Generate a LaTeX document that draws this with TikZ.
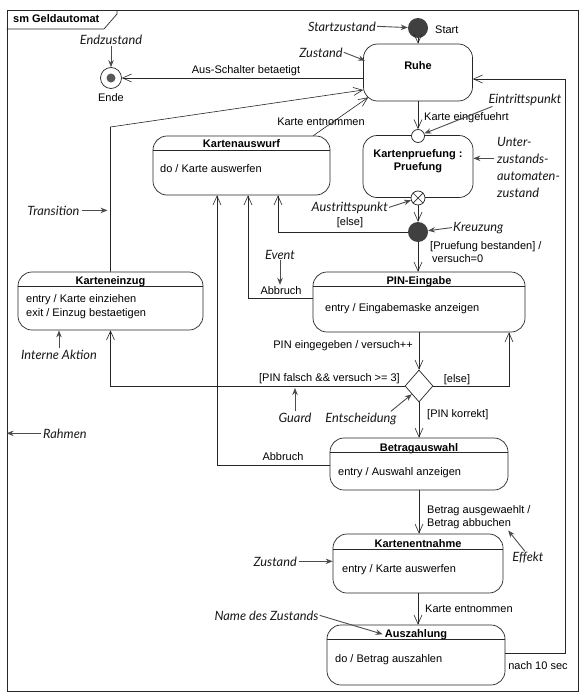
\documentclass[tikz,border=0pt]{standalone}
\usepackage{fontspec}
\setmainfont{Liberation Sans}
\newfontfamily\annfont{Lato}
\usetikzlibrary{arrows.meta,shapes.geometric,calc}
\begin{document}
\begin{tikzpicture}[x=1pt,y=-1pt,
 font=\fontsize{11}{13}\selectfont,
 st/.style={draw=black!85, line width=0.7pt, rounded corners=14pt, inner sep=0pt},
 tr/.style={draw=black!85, line width=0.6pt, -{Straight Barb[length=9pt,width=8pt]}},
 ann/.style={font=\annfont\itshape\fontsize{12.8}{15}\selectfont, inner sep=0pt, anchor=base, text=black!90},
 aa/.style={draw=black!70, line width=0.9pt, -{Stealth[length=7pt,width=5.5pt]}},
 tt/.style={font=\fontsize{11}{13}\selectfont\bfseries, inner sep=0pt, anchor=base},
 bw/.style={inner sep=0pt, anchor=base west},
 bc/.style={inner sep=0pt, anchor=base},
 be/.style={inner sep=0pt, anchor=base east},
 sep/.style={draw=black!85, line width=0.6pt}
]
\useasboundingbox (0,0) rectangle (585,696);
\fill[white] (0,0) rectangle (585,696);
% frame
\node[draw=black!85, line width=0.8pt, minimum width=571pt, minimum height=681pt, inner sep=0pt] (frame) at (292.5,350.5) {};
\draw[black!85, line width=0.7pt] (frame.north west |- 0,29) -- (104,29) -- (117,14) -- (117,10);
\node[tt, anchor=base west] (title) at (13,23) {sm Geldautomat};
% states
\node[st, minimum width=109pt, minimum height=57pt] (ruhe) at (418,72.5) {};
\node[tt] (ruhet) at (418,69) {Ruhe};
\node[st, minimum width=110pt, minimum height=62pt] (kp) at (418,166.5) {};
\node[tt] (kpt1) at (418,157) {Kartenpruefung :};
\node[tt] (kpt2) at (418,170) {Pruefung};
\node[st, minimum width=177pt, minimum height=59pt] (kaw) at (241.5,165.5) {};
\node[tt] (kawt) at (241.5,147) {Kartenauswurf};
\node[bw] (kawb) at (160,172) {do / Karte auswerfen};
\draw[sep] ([yshift=-15pt]kaw.north west) -- ([yshift=-15pt]kaw.north east);
\node[st, minimum width=185pt, minimum height=58pt] (kez) at (110.5,301) {};
\node[tt] (kezt) at (110.5,284) {Karteneinzug};
\node[bw] (kezb1) at (26,302) {entry / Karte einziehen};
\node[bw] (kezb2) at (26,316) {exit / Einzug bestaetigen};
\draw[sep] ([yshift=-15pt]kez.north west) -- ([yshift=-15pt]kez.north east);
\node[st, minimum width=212pt, minimum height=60pt] (pin) at (419,302) {};
\node[tt] (pint) at (419,284) {PIN-Eingabe};
\node[bw] (pinb) at (325,311) {entry / Eingabemaske anzeigen};
\draw[sep] ([yshift=-15pt]pin.north west) -- ([yshift=-15pt]pin.north east);
\node[st, minimum width=178pt, minimum height=52pt] (bet) at (419,464) {};
\node[tt] (bett) at (419,451) {Betragauswahl};
\node[bw] (betb) at (338,475) {entry / Auswahl anzeigen};
\draw[sep] ([yshift=-15pt]bet.north west) -- ([yshift=-15pt]bet.north east);
\node[st, minimum width=170pt, minimum height=59pt] (ken) at (418,563.5) {};
\node[tt] (kent) at (418,547) {Kartenentnahme};
\node[bw] (kenb) at (342,572) {entry / Karte auswerfen};
\draw[sep] ([yshift=-16pt]ken.north west) -- ([yshift=-16pt]ken.north east);
\node[st, minimum width=178pt, minimum height=60pt] (asz) at (416,655) {};
\node[tt] (aszt) at (416,637) {Auszahlung};
\node[bw] (aszb) at (335,662) {do / Betrag auszahlen};
\draw[sep] ([yshift=-15pt]asz.north west) -- ([yshift=-15pt]asz.north east);
% pseudo states
\node[circle, fill=black!75, minimum size=20pt, inner sep=0pt] (start) at (418,28) {};
\node[bw] (startl) at (435,33) {Start};
\node[circle, draw=black!85, line width=0.7pt, fill=white, minimum size=21pt, inner sep=0pt] (ende) at (111,78) {};
\node[circle, fill=black!65, minimum size=9pt, inner sep=0pt] (endedot) at (111,78) {};
\node[bc] (endel) at (111,101) {Ende};
\node[circle, draw=black!85, line width=0.7pt, fill=white, minimum size=13pt, inner sep=0pt] (entry) at (418,136) {};
\node[circle, draw=black!85, line width=0.7pt, fill=white, minimum size=14pt, inner sep=0pt] (exit) at (418,198) {};
\draw[black!85, line width=0.7pt] (exit.north west) -- (exit.south east) (exit.north east) -- (exit.south west);
\node[circle, fill=black!75, minimum size=20pt, inner sep=0pt] (junc) at (418,232) {};
\node[diamond, draw=black!85, line width=0.7pt, minimum width=28pt, minimum height=32pt, inner sep=0pt] (dec) at (419,386) {};
% transitions
\draw[tr] (start) -- (ruhe.north);
\draw[tr] (ruhe.west |- ende) -- (ende);
\node[bc] (l_aus) at (246,73) {Aus-Schalter betaetigt};
\coordinate (k1) at (110.5,127);
\draw[tr] (kez.north) -- (k1) -- ([yshift=-17.5pt]ruhe.west);
\draw[tr] ([xshift=-17pt]kaw.north east) -- ([xshift=5pt,yshift=4pt]ruhe.south west);
\node[bc] (l_ke1) at (321,125) {Karte entnommen};
\draw[tr] (ruhe.south) -- (entry);
\node[bw] (l_kein) at (424,120) {Karte eingefuehrt};
\draw[tr] (exit) -- (junc);
\draw[tr] (junc.west) -| ([xshift=36.5pt]kaw.south);
\node[bc] (l_else1) at (350,225) {[else]};
\draw[tr] (junc) -- (junc |- pin.north);
\node[bw] (l_pb1) at (430,249) {[Pruefung bestanden] /};
\node[bw] (l_pb2) at (432,262) {versuch=0};
\draw[tr] ([yshift=4pt]pin.west) -| ([xshift=6.5pt]kaw.south);
\node[bc] (l_abb1) at (281,294) {Abbruch};
\draw[tr] (pin.south) -- (dec);
\node[be] (l_pin) at (413,348) {PIN eingegeben / versuch++};
\draw[tr] (dec.west) -| (kez.south);
\node[be] (l_falsch) at (400,381) {[PIN falsch \&\& versuch >= 3]};
\draw[tr] (dec.east) -| ([xshift=90pt]pin.south);
\node[bc] (l_else2) at (457,382) {[else]};
\draw[tr] (dec.south) -- (bet.north);
\node[bw] (l_korr) at (427,417) {[PIN korrekt]};
\draw[tr] ([yshift=-1pt]bet.west) -| ([xshift=-24.5pt]kaw.south);
\node[bc] (l_abb2) at (283,460) {Abbruch};
\draw[tr] (bet.south) -- (bet.south |- ken.north);
\node[bw] (l_baus) at (427,513) {Betrag ausgewaehlt /};
\node[bw] (l_bab) at (427,526) {Betrag abbuchen};
\draw[tr] (ken.south) -- (ken.south |- asz.north);
\node[bw] (l_ke2) at (425,612) {Karte entnommen};
\coordinate (c10) at (565,653);
\draw[tr] (asz.east |- c10) -- (c10) |- ([yshift=-6.5pt]ruhe.east);
\node[bc] (l_10) at (538,669) {nach 10 sec};
% annotations
\node[ann] (a_endz) at (111,44) {Endzustand};
\draw[aa] ([yshift=-2pt]a_endz.south) -- (ende);
\node[ann] (a_start) at (342,31) {Startzustand};
\draw[aa] ([xshift=1pt]a_start.east) -- (start);
\node[ann] (a_zust) at (321,57) {Zustand};
\draw[aa] ([xshift=1pt]a_zust.east) -- ([xshift=2pt,yshift=-17pt]ruhe.north west);
\node[ann] (a_eintr) at (525,103) {Eintrittspunkt};
\draw[aa] ([xshift=4pt,yshift=-1pt]a_eintr.south west) -- (entry);
\node[ann, anchor=base west] (a_u1) at (497,146) {Unter-};
\node[ann, anchor=base west] (a_u2) at (497,163) {zustands-};
\node[ann, anchor=base west] (a_u3) at (497,180) {automaten-};
\node[ann, anchor=base west] (a_u4) at (497,197) {zustand};
\draw[aa] ([xshift=-3pt]a_u2.west) -- (kp.east |- a_u2.west);
\node[ann, anchor=base east] (a_austr) at (388,211) {Austrittspunkt};
\draw[aa] ([xshift=1pt]a_austr.east) -- (exit);
\node[ann, anchor=base west] (a_kreuz) at (453,231) {Kreuzung};
\draw[aa] ([xshift=-1pt]a_kreuz.west) -- (junc);
\node[ann] (a_trans) at (53.5,215) {Transition};
\draw[aa] ([xshift=2pt]a_trans.east) -- ([xshift=-3pt]k1 |- a_trans.east);
\node[ann] (a_event) at (280,259) {Event};
\draw[aa] ([yshift=-1pt]a_event.south) -- ([yshift=1pt]a_event.south |- l_abb1.north);
\node[ann] (a_int) at (59,359) {Interne Aktion};
\draw[aa] ([yshift=1pt]a_int.north) -- (a_int.north |- kez.south);
\node[ann] (a_guard) at (295,422) {Guard};
\draw[aa, shorten >=2pt] ([yshift=1pt]a_guard.north) -- (a_guard.north |- dec.west);
\node[ann] (a_ent) at (361,422) {Entscheidung};
\draw[aa] ([xshift=-6pt,yshift=1pt]a_ent.north east) -- (dec.south west);
\node[ann, anchor=base west] (a_rahmen) at (43,438) {Rahmen};
\draw[aa] ([xshift=-2pt]a_rahmen.west) -- (frame.west |- a_rahmen.west);
\node[ann] (a_eff) at (528,561) {Effekt};
\draw[aa] ([xshift=-3pt]a_eff.north) -- ([xshift=-3pt,yshift=-2pt]l_bab.south east);
\node[ann, anchor=base east] (a_zust2) at (297,566) {Zustand};
\draw[aa] ([xshift=2pt]a_zust2.east) -- (ken.west |- a_zust2.east);
\node[ann] (a_name) at (266.5,620) {Name des Zustands};
\draw[aa] ([xshift=1pt]a_name.east) -- ([xshift=-2pt]aszt.west);
\end{tikzpicture}
\end{document}
